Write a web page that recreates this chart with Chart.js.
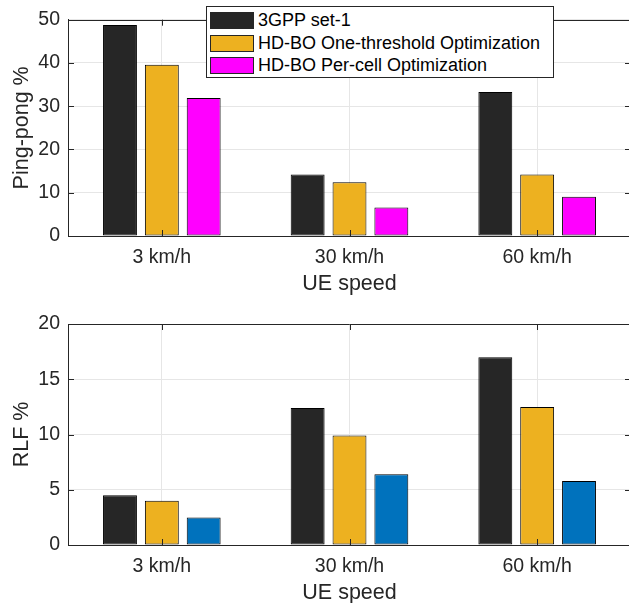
<!DOCTYPE html>
<html>
<head>
<meta charset="utf-8">
<script src="https://cdn.jsdelivr.net/npm/chart.js@4/dist/chart.umd.min.js"></script>
<style>
  html, body { margin: 0; padding: 0; background: #fff; width: 629px; height: 603px; overflow: hidden; }
  #wrap { position: relative; width: 629px; height: 603px; overflow: hidden; }
  #c1 { position: absolute; left: 0; top: 0; }
  #c2 { position: absolute; left: 0; top: 300px; }
  #legend { position: absolute; left: 206px; top: 6px; width: 346px; height: 70px; border: 1px solid #262626; background: #fff;
            font-family: "Liberation Sans", Arial, sans-serif; font-size: 18px; color: #000; }
  .row { position: absolute; left: 3px; height: 17px; white-space: nowrap; }
  .sw { position: absolute; left: 0; top: 0; width: 42px; height: 15px; border: 1px solid #262626; }
  .lbl { position: absolute; left: 48px; top: -3px; line-height: 22px; }
</style>
</head>
<body>
<div id="wrap">
  <canvas id="c1" width="640" height="300"></canvas>
  <canvas id="c2" width="640" height="320"></canvas>
  <div id="legend"></div>
</div>
<script>
// ---- data ----
const categories = ['3 km/h', '30 km/h', '60 km/h'];
const seriesNames = ['3GPP set-1', 'HD-BO One-threshold Optimization', 'HD-BO Per-cell Optimization'];
const pingPong3gpp    = [48.8, 14.2, 33.3];
const pingPongOneThr  = [39.6, 12.4, 14.2];
const pingPongPerCell = [31.9, 6.6, 9.1];
const rlf3gpp    = [4.5, 12.4, 17.0];
const rlfOneThr  = [4.0, 9.9, 12.5];
const rlfPerCell = [2.5, 6.4, 5.8];
const pingPongTickStep = 10, pingPongMax = 50;
const rlfTickStep = 5, rlfMax = 20;
const xTitle = 'UE speed';
const yTitleTop = 'Ping-pong %';
const yTitleBottom = 'RLF %';

// ---- styles ----
const colBlack = '#262626', colYellow = '#EDB120', colMagenta = '#FF00FF', colBlue = '#0072BD';
const FONT = '"Liberation Sans", Arial, sans-serif';
const textCol = '#262626';
const gridCol = '#e6e6e6';

const framePlugin = {
  id: 'frame',
  afterDatasetsDraw(chart) {
    const { ctx, chartArea: { left, right, top, bottom }, scales: { x, y } } = chart;
    ctx.save();
    ctx.strokeStyle = textCol;
    ctx.lineWidth = 1;
    ctx.beginPath();
    ctx.moveTo(left, Math.round(top) + 0.5); ctx.lineTo(right, Math.round(top) + 0.5);
    ctx.moveTo(Math.round(right) - 0.5, top); ctx.lineTo(Math.round(right) - 0.5, bottom);
    y.ticks.forEach(t => {
      const py = Math.round(y.getPixelForValue(t.value)) + 0.5;
      ctx.moveTo(left, py); ctx.lineTo(left + 6, py);
      ctx.moveTo(right, py); ctx.lineTo(right - 6, py);
    });
    x.ticks.forEach((t, i) => {
      const px = Math.round(x.getPixelForTick(i)) + 0.5;
      ctx.moveTo(px, bottom); ctx.lineTo(px, bottom - 6);
      ctx.moveTo(px, top); ctx.lineTo(px, top + 6);
    });
    ctx.stroke();
    ctx.restore();
  }
};

function makeChart(canvasId, sets, colors, yMax, yStep, yTitle, padTop, xHeight, xTitlePadBottom) {
  const datasets = sets.map((d, i) => ({
    label: seriesNames[i],
    data: d,
    backgroundColor: colors[i],
    borderColor: '#000',
    borderWidth: 1,
    borderSkipped: false,
    categoryPercentage: 0.669,
    barPercentage: 0.81
  }));
  return new Chart(document.getElementById(canvasId), {
    type: 'bar',
    data: { labels: categories, datasets },
    options: {
      responsive: false,
      animation: false,
      devicePixelRatio: 1,
      layout: { padding: { top: padTop, right: 9, bottom: 0, left: 0 } },
      plugins: { legend: { display: false }, tooltip: { enabled: false } },
      scales: {
        x: {
          grid: { display: true, offset: false, color: gridCol, drawTicks: false },
          border: { display: true, color: textCol, width: 1 },
          ticks: { color: textCol, font: { family: FONT, size: 19.5 }, padding: 10, maxRotation: 0 },
          title: { display: true, text: xTitle, color: textCol, font: { family: FONT, size: 21.5 }, padding: { top: 0, bottom: xTitlePadBottom } },
          afterFit: s => { s.height = xHeight; }
        },
        y: {
          min: 0, max: yMax,
          grid: { color: gridCol, drawTicks: false },
          border: { display: true, color: textCol, width: 1 },
          ticks: { stepSize: yStep, color: textCol, font: { family: FONT, size: 19.5 }, padding: 8 },
          title: { display: true, text: yTitle, color: textCol, font: { family: FONT, size: 21.5 }, padding: { top: 9, bottom: 0 } },
          afterFit: s => { s.width = 68; }
        }
      }
    },
    plugins: [framePlugin]
  });
}

makeChart('c1', [pingPong3gpp, pingPongOneThr, pingPongPerCell], [colBlack, colYellow, colMagenta],
          pingPongMax, pingPongTickStep, yTitleTop, 17.5, 64, 3.5);
makeChart('c2', [rlf3gpp, rlfOneThr, rlfPerCell], [colBlack, colYellow, colBlue],
          rlfMax, rlfTickStep, yTitleBottom, 24, 75, 14.5);

// legend (HTML, real text)
const legendColors = [colBlack, colYellow, colMagenta];
const legendTops = [5, 28, 50];
const leg = document.getElementById('legend');
seriesNames.forEach((name, i) => {
  const row = document.createElement('div');
  row.className = 'row';
  row.style.top = legendTops[i] + 'px';
  const sw = document.createElement('div');
  sw.className = 'sw';
  sw.style.background = legendColors[i];
  const lb = document.createElement('div');
  lb.className = 'lbl';
  lb.textContent = name;
  row.appendChild(sw); row.appendChild(lb);
  leg.appendChild(row);
});
</script>
</body>
</html>
